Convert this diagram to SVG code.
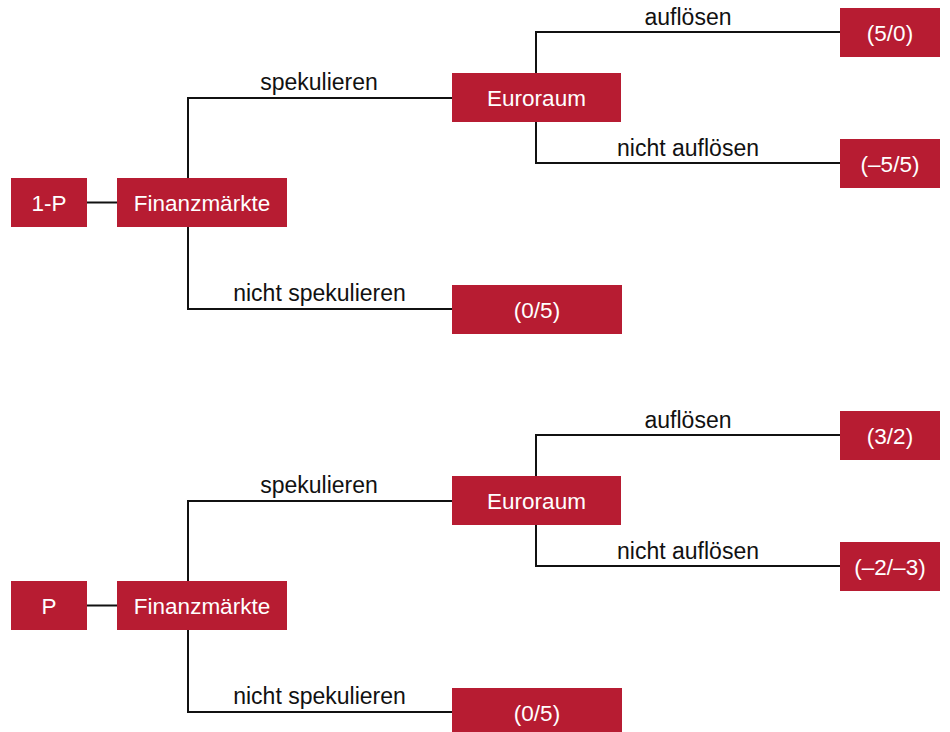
<svg xmlns="http://www.w3.org/2000/svg" width="950" height="732" viewBox="0 0 950 732">
<style>
.box{fill:#b71c32}
.bt{fill:#ffffff;font-family:"Liberation Sans",Arial,sans-serif;font-size:22.5px;text-anchor:middle}
.lt{fill:#111111;font-family:"Liberation Sans",Arial,sans-serif;font-size:23px;text-anchor:middle}
.ln{fill:none;stroke:#111111;stroke-width:2}
</style>
<rect width="950" height="732" fill="#ffffff"/>
<g id="connectors">
<path class="ln" d="M87 202.5H117"/>
<path class="ln" d="M188 202V98H452"/>
<path class="ln" d="M188 202V309H452"/>
<path class="ln" d="M536 98V32H840"/>
<path class="ln" d="M536 98V163H840"/>
<path class="ln" d="M87 605.5H117"/>
<path class="ln" d="M188 605V501H452"/>
<path class="ln" d="M188 605V712H452"/>
<path class="ln" d="M536 501V435H840"/>
<path class="ln" d="M536 501V566H840"/>
</g>
<g id="labels">
<text class="lt" x="319" y="89.5">spekulieren</text>
<text class="lt" x="319.5" y="301">nicht spekulieren</text>
<text class="lt" x="688" y="25">auflösen</text>
<text class="lt" x="688" y="156">nicht auflösen</text>
<text class="lt" x="319" y="492.5">spekulieren</text>
<text class="lt" x="319.5" y="704">nicht spekulieren</text>
<text class="lt" x="688" y="428">auflösen</text>
<text class="lt" x="688" y="559">nicht auflösen</text>
</g>
<g id="n-1p"><rect class="box" x="11" y="178" width="76" height="49"/><text class="bt" x="49" y="210.5">1-P</text></g>
<g id="n-fin1"><rect class="box" x="117" y="178" width="170" height="49"/><text class="bt" x="202" y="210.5">Finanzmärkte</text></g>
<g id="n-euro1"><rect class="box" x="452" y="73" width="169" height="49"/><text class="bt" x="536.5" y="105.5">Euroraum</text></g>
<g id="n-l1"><rect class="box" x="840" y="8" width="100" height="49"/><text class="bt" x="890" y="40.5">(5/0)</text></g>
<g id="n-l2"><rect class="box" x="840" y="139" width="100" height="49"/><text class="bt" x="890" y="171.5">(–5/5)</text></g>
<g id="n-l3"><rect class="box" x="452" y="285" width="170" height="49"/><text class="bt" x="537" y="317.5">(0/5)</text></g>
<g id="n-p"><rect class="box" x="11" y="581" width="76" height="49"/><text class="bt" x="49" y="613.5">P</text></g>
<g id="n-fin2"><rect class="box" x="117" y="581" width="170" height="49"/><text class="bt" x="202" y="613.5">Finanzmärkte</text></g>
<g id="n-euro2"><rect class="box" x="452" y="476" width="169" height="49"/><text class="bt" x="536.5" y="508.5">Euroraum</text></g>
<g id="n-l4"><rect class="box" x="840" y="411" width="100" height="49"/><text class="bt" x="890" y="443.5">(3/2)</text></g>
<g id="n-l5"><rect class="box" x="840" y="542" width="100" height="49"/><text class="bt" x="890" y="574.5">(–2/–3)</text></g>
<g id="n-l6"><rect class="box" x="452" y="688" width="170" height="49"/><text class="bt" x="537" y="720.5">(0/5)</text></g>
</svg>
